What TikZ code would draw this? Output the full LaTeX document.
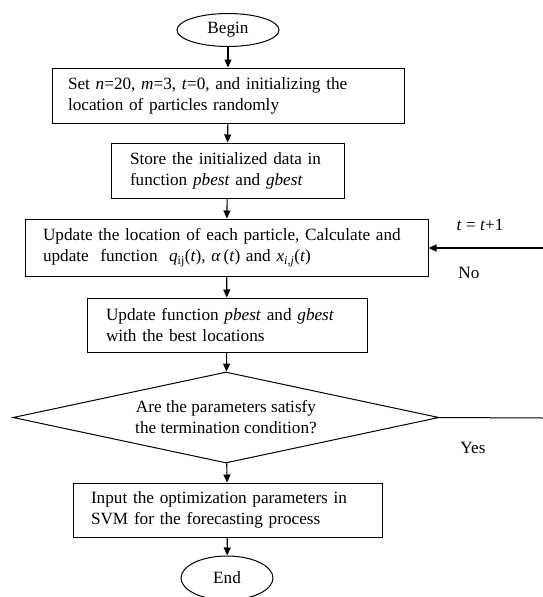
\documentclass[tikz,border=0pt]{standalone}
\usepackage{fontspec}
\setmainfont{Liberation Serif}
\usetikzlibrary{shapes.geometric,arrows.meta}
\begin{document}
\begin{tikzpicture}[x=1pt,y=-1pt,
  font=\fontsize{17.2}{21}\selectfont,
  box/.style={draw, line width=1pt, inner ysep=0pt, align=left, anchor=center},
  term/.style={draw, ellipse, line width=1pt, inner sep=0pt},
  dec/.style={draw, diamond, line width=1pt, inner sep=0pt, aspect=4.68, align=center},
  arr/.style={-{Triangle[length=8pt,width=7pt]}, line width=1.1pt},
  lab/.style={inner sep=0pt}]
\useasboundingbox (0,0) rectangle (543,597);

\node[term, minimum width=102pt, minimum height=33pt] (begin) at (228,30) {Begin};
\node[box, text width=320pt, inner xsep=16pt, minimum height=55pt] (b1) at (228,95.5)
  {Set \textit{n}=20, \textit{m}=3, \textit{t}=0, and initializing the\\location of particles randomly};
\node[box, text width=195pt, inner xsep=19pt, minimum height=55pt] (b2) at (227.5,170.5)
  {Store the initialized data in\\function \textit{pbest} and \textit{gbest}};
\node[box, text width=367pt, inner xsep=18pt, minimum height=57pt] (b3) at (226.5,247.5)
  {Update the location of each particle, Calculate and\\update\ \ function\ \ \textit{q}\textsubscript{ij}(\textit{t}), \textit{α}\,(\textit{t}) and \textit{x}\textsubscript{\textit{i,j}}(\textit{t})};
\node[box, text width=242pt, inner xsep=19pt, minimum height=54pt] (b4) at (227,325)
  {Update function \textit{pbest} and \textit{gbest}\\with the best locations};
\node[dec, minimum width=426pt, minimum height=91pt] (d) at (226,417.5)
  {Are the parameters satisfy\\the termination condition?};
\node[box, text width=273pt, inner xsep=18pt, minimum height=54pt] (b5) at (227.5,510)
  {Input the optimization parameters in\\SVM for the forecasting process};
\node[term, minimum width=92pt, minimum height=44pt] (end) at (227,578) {End};

\coordinate (rin) at (543,248);
\coordinate (dout) at (543,418);
\node[lab] (tl) at (480,225) {\textit{t} = \textit{t}+1};
\node[lab] (no) at (469,273) {No};
\node[lab] (yes) at (473,448) {Yes};

\draw[arr] (begin) -- (b1);
\draw[arr] (b1) -- (b2);
\draw[arr] (b2) -- (b3);
\draw[arr] (b3) -- (b4);
\draw[arr] (b4) -- (d);
\draw[arr] (d) -- (b5);
\draw[arr] (b5) -- (end);
\draw[arr] (rin) -- (rin -| b3.east);
\draw[line width=1pt] (d.east) -- (dout);
\end{tikzpicture}
\end{document}
